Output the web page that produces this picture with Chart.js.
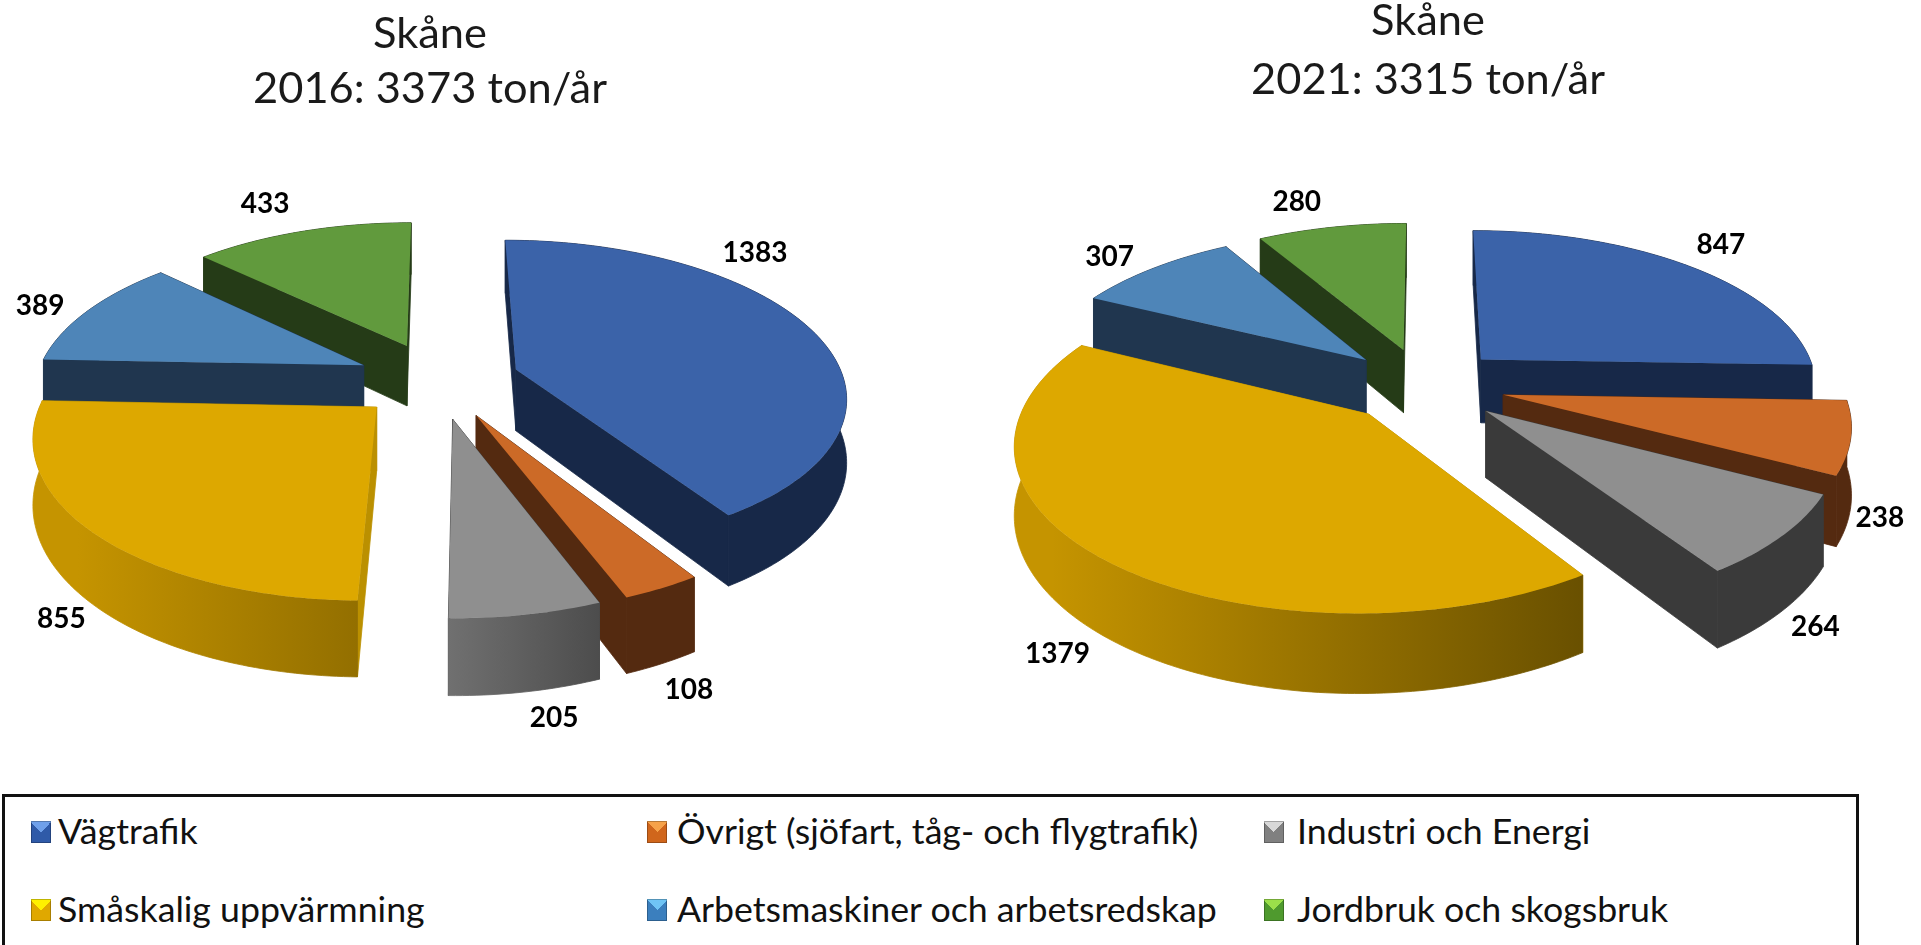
<!DOCTYPE html>
<html lang="sv">
<head>
<meta charset="utf-8">
<title>Skåne</title>
<script src="https://cdn.jsdelivr.net/npm/chart.js@4/dist/chart.umd.min.js"></script>
<style>
html,body{margin:0;padding:0;background:#fff;width:1921px;height:945px;overflow:hidden;font-family:Lato,sans-serif}
canvas{position:absolute;top:0}
#c1{left:0}
#c2{left:950px}
#legend{position:absolute;left:2px;top:794px;width:1851px;height:200px;border:3px solid #111;box-sizing:content-box}
.sw{position:absolute;width:20px;height:22px;box-shadow:inset 0 0 0 1px rgba(0,0,0,.25)}
.tx{position:absolute;line-height:40px;font-size:35.7px;color:#111;white-space:nowrap}
</style>
</head>
<body>
<canvas id="c1" width="860" height="790"></canvas>
<canvas id="c2" width="956" height="790"></canvas>
<div id="legend"></div>
<script>
// ---- data ----
const categories = ['Vägtrafik','Övrigt (sjöfart, tåg- och flygtrafik)','Industri och Energi','Småskalig uppvärmning','Arbetsmaskiner och arbetsredskap','Jordbruk och skogsbruk'];
const values2016 = [1383,108,205,855,389,433];
const values2021 = [847,238,264,1379,307,280];
const title2016 = ['Skåne','2016: 3373 ton/år'];
const title2021 = ['Skåne','2021: 3315 ton/år'];

// ---- styles ----
const topColors   = ['#3B63A9','#CC6A27','#8F8F8F','#DDA800','#4E85B8','#619A3D'];
const faceColors  = ['#172848','#542A10','#3A3A3A','#BB9000','#20364F','#253B17'];
const wallLight   = ['#172848','#542A10','#C8C8C8','#C59400','#20364F','#253B17'];
const wallDark    = ['#172848','#542A10','#3A3A3A','#5A4500','#20364F','#253B17'];
const swatchLight = ['#6FA0EA','#F5A24A','#D8D8D8','#FFF000','#6FC4F5','#9BE04A'];
const swatchBase  = ['#2F5AA8','#D0661C','#808080','#E0A800','#3B7FBE','#4F9A2E'];

const labelOffsets2016 = [[-56,-77],[27,102],[28,103],[-31,87],[-48,-5],[-37,-27]];
const labelOffsets2021 = [[32,-21],[29,80],[33,91],[-41,97],[-44,-11],[-35,-25]];

// perspective drawing of each arc the pie controller has laid out
const pie3d = {
  id:'pie3d',
  beforeDatasetDraw(chart, args, o){
    const ctx = chart.ctx, arcs = chart.getDatasetMeta(0).data;
    const project = (u,v,z) => {
      const p = 1/(1+o.k*v);
      return [o.cx+o.S*u*p, o.cy-o.a*v*p+z*o.D*p];
    };
    const slices = arcs.map((arc,i)=>{
      const s = arc.startAngle+Math.PI/2, e = arc.endAngle+Math.PI/2, m=(s+e)/2;
      return {i,s,e,m,ox:o.explode*Math.sin(m),oy:o.explode*Math.cos(m)};
    }).sort((a,b)=>Math.cos(b.m)-Math.cos(a.m));
    const poly = (pts,fill,seal) => {
      ctx.beginPath();
      pts.forEach((q,j)=> j?ctx.lineTo(q[0],q[1]):ctx.moveTo(q[0],q[1]));
      ctx.closePath();
      ctx.fillStyle=fill;
      ctx.fill();
      if(seal){ ctx.strokeStyle=fill; ctx.lineWidth=0.8; ctx.lineJoin='round'; ctx.stroke(); }
    };
    ctx.save();
    for(const sl of slices){
      const n=Math.max(4,Math.ceil((sl.e-sl.s)/(Math.PI/180)));
      const rim=[];
      for(let j=0;j<=n;j++){
        const t=sl.s+(sl.e-sl.s)*j/n;
        rim.push([sl.ox+Math.sin(t),sl.oy+Math.cos(t)]);
      }
      const apex=[sl.ox,sl.oy];
      const grad=ctx.createLinearGradient(o.cx-o.S*1.1,0,o.cx+o.S*0.73,0);
      grad.addColorStop(0,wallLight[sl.i]); grad.addColorStop(1,wallDark[sl.i]);
      const face=(B)=>poly([project(apex[0],apex[1],0),project(B[0],B[1],0),project(B[0],B[1],1),project(apex[0],apex[1],1)],faceColors[sl.i],true);
      const ends=[rim[0],rim[n]].sort((A,B)=>B[1]-A[1]);
      face(ends[0]); face(ends[1]);
      poly([...rim.map(q=>project(q[0],q[1],0)),...rim.slice().reverse().map(q=>project(q[0],q[1],1))],grad,true);
      poly([apex,...rim].map(q=>project(q[0],q[1],0)),topColors[sl.i],false);
    }
    // value labels
    ctx.fillStyle='#000';
    ctx.font='bold 28px Lato';
    ctx.textAlign='center'; ctx.textBaseline='middle';
    for(const sl of slices){
      const q=project((1+o.explode)*Math.sin(sl.m),(1+o.explode)*Math.cos(sl.m),0);
      const off=o.labelOffsets[sl.i];
      ctx.fillText(String(chart.data.datasets[0].data[sl.i]),q[0]+off[0],q[1]+off[1]);
    }
    ctx.restore();
    return false;
  }
};

function makePie(id,values,title,lineHeight,pad,geom){
  new Chart(document.getElementById(id),{
    type:'pie',
    data:{labels:categories,datasets:[{data:values,backgroundColor:topColors,borderWidth:0}]},
    plugins:[pie3d],
    options:{
      responsive:false,animation:false,
      plugins:{
        legend:{display:false},
        tooltip:{enabled:false},
        title:{display:true,text:title,color:'#1a1a1a',font:{family:'Lato',size:43.4,weight:'normal',lineHeight},padding:pad},
        pie3d:geom
      }
    }
  });
}
makePie('c1',values2016,title2016,1.27,{top:6,bottom:0},{cx:438,cy:380,S:328,a:153,k:0.16,D:62,explode:0.25,labelOffsets:labelOffsets2016});
makePie('c2',values2021,title2021,1.36,{top:-8.5,bottom:0},{cx:474,cy:385,S:338,a:157,k:0.16,D:65,explode:0.24,labelOffsets:labelOffsets2021});

// legend box
const legendCols=[[26,53],[642,672],[1259,1292]];
const legendRows=[14,92];
const legendOrder=[[0,0],[0,1],[0,2],[1,0],[1,1],[1,2]];
const box=document.getElementById('legend');
categories.forEach((c,i)=>{
  const [r,col]=legendOrder[i];
  const sw=document.createElement('div');
  sw.className='sw';
  sw.style.cssText=`left:${legendCols[col][0]}px;top:${legendRows[r]+10}px;background:conic-gradient(from -45deg, ${swatchLight[i]} 0 90deg, ${swatchBase[i]} 90deg 360deg)`;
  const tx=document.createElement('div');
  tx.className='tx';
  tx.style.cssText=`left:${legendCols[col][1]}px;top:${legendRows[r]}px`;
  tx.textContent=c;
  box.append(sw,tx);
});
</script>
</body>
</html>
